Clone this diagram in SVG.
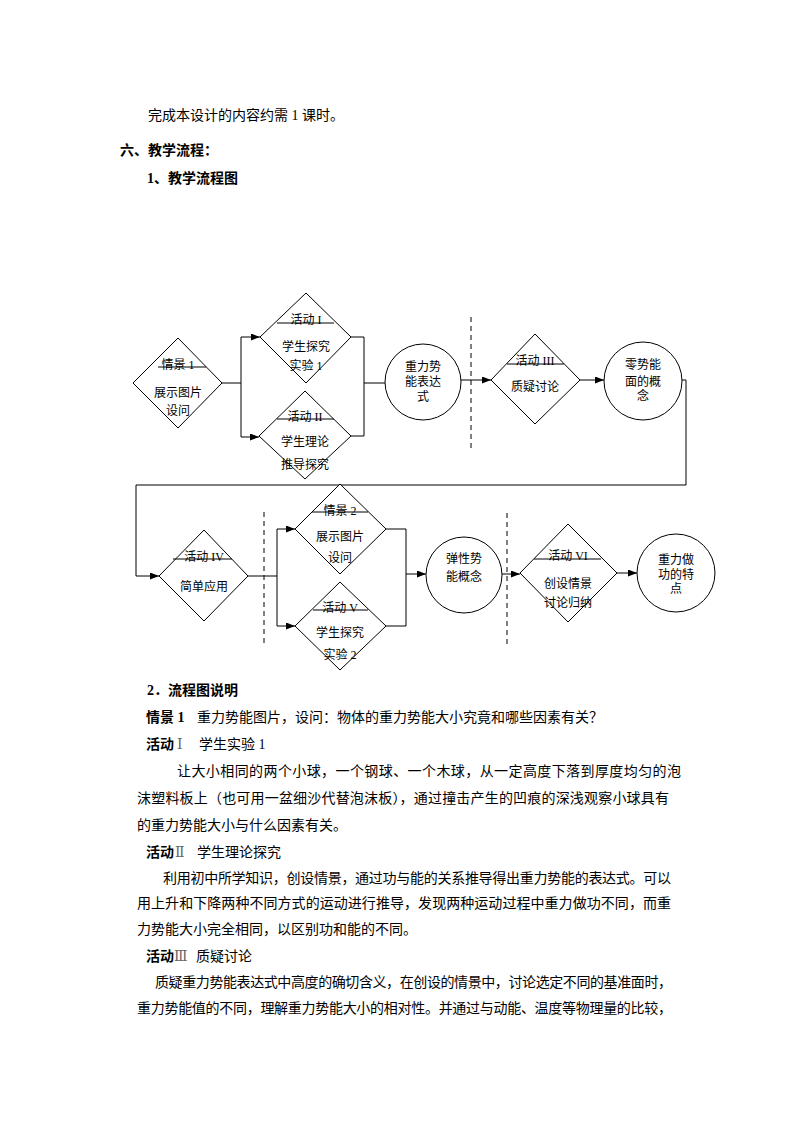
<svg xmlns="http://www.w3.org/2000/svg" width="794" height="1123" viewBox="0 0 794 1123">
<style>
.bg{fill:#fff}
.sh{fill:#fff;stroke:#000;stroke-width:1}
.ln{fill:none;stroke:#000;stroke-width:1}
.dash{fill:none;stroke:#000;stroke-width:1;stroke-dasharray:5,4}
.t{font-family:"Liberation Serif","Noto Sans CJK SC",serif;font-size:12px;fill:#000;text-anchor:middle}
.b{font-family:"Liberation Serif","Noto Sans CJK SC",serif;font-size:14px;fill:#000}
.bb{font-family:"Liberation Serif","Noto Sans CJK SC",serif;font-size:14px;fill:#000;font-weight:bold}
.rn{font-family:"DejaVu Serif","Noto Sans CJK SC",serif;font-size:14px;fill:#666}
</style>
<defs>
<marker id="ah" markerUnits="userSpaceOnUse" markerWidth="9" markerHeight="7" refX="9" refY="3.5" orient="auto">
<path d="M0,0 L9,3.5 L0,7 Z" fill="#000"/>
</marker>
</defs>
<rect class="bg" x="0" y="0" width="794" height="1123"/>

<!-- header text -->
<text class="b" x="148" y="120">完成本设计的内容约需 1 课时。</text>
<text class="bb" x="120" y="155">六、教学流程：</text>
<text class="bb" x="147" y="183">1、教学流程图</text>

<!-- connectors -->
<g id="connectors">
<polyline class="ln" points="222,383 241,383"/>
<polyline class="ln" points="241,337 241,437"/>
<line class="ln" x1="241" y1="337" x2="260" y2="337" marker-end="url(#ah)"/>
<line class="ln" x1="241" y1="437" x2="259" y2="437" marker-end="url(#ah)"/>
<polyline class="ln" points="351,337 364,337 364,436 351,436"/>
<line class="ln" x1="364" y1="383" x2="385" y2="383"/>
<line class="ln" x1="461" y1="380" x2="491" y2="380" marker-end="url(#ah)"/>
<line class="ln" x1="580" y1="380" x2="604" y2="380" marker-end="url(#ah)"/>
<polyline class="ln" points="682,380 686,380 686,485 136,485 136,576 159,576" marker-end="url(#ah)"/>
<line class="ln" x1="248" y1="576" x2="277" y2="576"/>
<line class="ln" x1="277" y1="529" x2="277" y2="626"/>
<line class="ln" x1="277" y1="529" x2="295" y2="529" marker-end="url(#ah)"/>
<line class="ln" x1="277" y1="626" x2="295" y2="626" marker-end="url(#ah)"/>
<polyline class="ln" points="386,529 406,529 406,626 386,626"/>
<line class="ln" x1="406" y1="574" x2="426" y2="574" marker-end="url(#ah)"/>
<line class="ln" x1="502" y1="574" x2="520" y2="574" marker-end="url(#ah)"/>
<line class="ln" x1="617" y1="573" x2="637" y2="573" marker-end="url(#ah)"/>
<line class="dash" x1="471" y1="317" x2="471" y2="448"/>
<line class="dash" x1="264" y1="512" x2="264" y2="645"/>
<line class="dash" x1="507" y1="513" x2="507" y2="647"/>
</g>

<!-- nodes -->
<g id="n-qj1">
<polygon class="sh" points="178,338 222,383 178,428 133,383"/>
<line class="ln" x1="158" y1="367" x2="206" y2="367"/>
<text class="t" x="178" y="369">情景 1</text>
<text class="t" x="178" y="397">展示图片</text>
<text class="t" x="178" y="415">设问</text>
</g>
<g id="n-hd1">
<polygon class="sh" points="306,293 351,337 306,383 260,337"/>
<line class="ln" x1="277" y1="323" x2="334" y2="323"/>
<text class="t" x="306" y="324">活动 I</text>
<text class="t" x="306" y="351">学生探究</text>
<text class="t" x="306" y="370">实验 1</text>
</g>
<g id="n-hd2">
<polygon class="sh" points="305,391 351,436 305,479 259,436"/>
<line class="ln" x1="277" y1="419" x2="334" y2="419"/>
<text class="t" x="305" y="421">活动 II</text>
<text class="t" x="305" y="446">学生理论</text>
<text class="t" x="305" y="469">推导探究</text>
</g>
<g id="n-zlsn">
<circle class="sh" cx="423" cy="382" r="38"/>
<text class="t" x="423" y="371">重力势</text>
<text class="t" x="423" y="386">能表达</text>
<text class="t" x="423" y="401">式</text>
</g>
<g id="n-hd3">
<polygon class="sh" points="535,334 580,380 535,424 491,380"/>
<line class="ln" x1="507" y1="364" x2="564" y2="364"/>
<text class="t" x="535" y="365">活动 III</text>
<text class="t" x="535" y="391">质疑讨论</text>
</g>
<g id="n-lsn">
<circle class="sh" cx="643" cy="381" r="39"/>
<text class="t" x="643" y="369">零势能</text>
<text class="t" x="643" y="386">面的概</text>
<text class="t" x="643" y="400">念</text>
</g>
<g id="n-hd4">
<polygon class="sh" points="204,530 248,576 204,621 159,576"/>
<line class="ln" x1="173" y1="559" x2="232" y2="559"/>
<text class="t" x="204" y="561">活动 IV</text>
<text class="t" x="204" y="591">简单应用</text>
</g>
<g id="n-qj2">
<polygon class="sh" points="340,484 386,529 340,574 295,529"/>
<line class="ln" x1="312" y1="512" x2="368" y2="512"/>
<text class="t" x="340" y="515">情景 2</text>
<text class="t" x="340" y="541">展示图片</text>
<text class="t" x="340" y="562">设问</text>
</g>
<g id="n-hd5">
<polygon class="sh" points="340,582 386,626 340,670 295,626"/>
<line class="ln" x1="313" y1="610" x2="368" y2="610"/>
<text class="t" x="340" y="612">活动 V</text>
<text class="t" x="340" y="637">学生探究</text>
<text class="t" x="340" y="659">实验 2</text>
</g>
<g id="n-txsn">
<circle class="sh" cx="464" cy="575" r="38"/>
<text class="t" x="464" y="563">弹性势</text>
<text class="t" x="464" y="581">能概念</text>
</g>
<g id="n-hd6">
<polygon class="sh" points="568,524 617,573 568,622 520,573"/>
<line class="ln" x1="534" y1="559" x2="601" y2="559"/>
<text class="t" x="568" y="560">活动 VI</text>
<text class="t" x="568" y="588">创设情景</text>
<text class="t" x="568" y="607">讨论归纳</text>
</g>
<g id="n-zlzg">
<circle class="sh" cx="676" cy="573" r="39"/>
<text class="t" x="676" y="564">重力做</text>
<text class="t" x="676" y="579">功的特</text>
<text class="t" x="676" y="593">点</text>
</g>

<!-- body text -->
<text class="bb" x="147" y="695">2．流程图说明</text>
<text class="bb" x="146" y="722">情景 1</text>
<text class="b" x="197" y="722">重力势能图片，设问：物体的重力势能大小究竟和哪些因素有关？</text>
<text class="bb" x="146" y="749">活动</text>
<text class="rn" x="177" y="749">Ⅰ</text>
<text class="b" x="199" y="749">学生实验 1</text>
<text class="b" x="177" y="776" textLength="504" lengthAdjust="spacing">让大小相同的两个小球，一个钢球、一个木球，从一定高度下落到厚度均匀的泡</text>
<text class="b" x="137" y="803" textLength="532" lengthAdjust="spacing">沫塑料板上（也可用一盆细沙代替泡沫板），通过撞击产生的凹痕的深浅观察小球具有</text>
<text class="b" x="137" y="830">的重力势能大小与什么因素有关。</text>
<text class="bb" x="146" y="857">活动</text>
<text class="rn" x="175" y="857">Ⅱ</text>
<text class="b" x="197" y="857">学生理论探究</text>
<text class="b" x="163" y="883" textLength="508" lengthAdjust="spacing">利用初中所学知识，创设情景，通过功与能的关系推导得出重力势能的表达式。可以</text>
<text class="b" x="137" y="908" textLength="534" lengthAdjust="spacing">用上升和下降两种不同方式的运动进行推导，发现两种运动过程中重力做功不同，而重</text>
<text class="b" x="137" y="934">力势能大小完全相同，以区别功和能的不同。</text>
<text class="bb" x="146" y="961">活动</text>
<text class="rn" x="174" y="961">Ⅲ</text>
<text class="b" x="196" y="961">质疑讨论</text>
<text class="b" x="155" y="987" textLength="517" lengthAdjust="spacing">质疑重力势能表达式中高度的确切含义，在创设的情景中，讨论选定不同的基准面时，</text>
<text class="b" x="137" y="1013" textLength="535" lengthAdjust="spacing">重力势能值的不同，理解重力势能大小的相对性。并通过与动能、温度等物理量的比较，</text>
</svg>
